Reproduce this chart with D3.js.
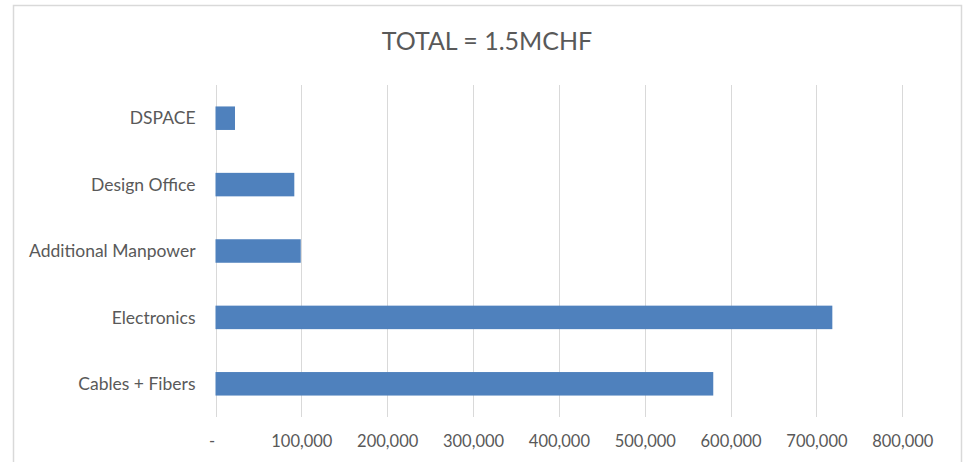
<!DOCTYPE html>
<html>
<head>
<meta charset="utf-8">
<script src="https://cdn.jsdelivr.net/npm/d3@7"></script>
<style>
  html, body { margin: 0; padding: 0; background: #fff; }
  svg { display: block; }
  text { font-family: Lato, "Open Sans", sans-serif; fill: #595959; }
</style>
</head>
<body>
<script>
const title = "TOTAL = 1.5MCHF";
const categories = ["DSPACE", "Design Office", "Additional Manpower", "Electronics", "Cables + Fibers"];
const values = [22700, 91800, 99300, 718500, 579800];
const tickValues = [0, 100000, 200000, 300000, 400000, 500000, 600000, 700000, 800000];

(function () {
const W = 965, H = 462;
const svg = d3.select("body").append("svg").attr("width", W).attr("height", H);

// chart frame
svg.append("rect")
  .attr("x", 13.5).attr("y", 5.5)
  .attr("width", 948).attr("height", 470)
  .attr("fill", "#fff").attr("stroke", "#d9d9d9").attr("stroke-width", 1.5);

const pLeft = 215.5, pRight = 902.3, pTop = 85, pBottom = 417;

const x = d3.scaleLinear().domain([0, 800000]).range([pLeft, pRight]);
const y = d3.scaleBand().domain(categories).range([pTop, pBottom]).paddingInner(0.646).paddingOuter(0.323);

// gridlines
svg.append("g").selectAll("line").data(tickValues).join("line")
  .attr("x1", d => Math.round(x(d)) + 0.5).attr("x2", d => Math.round(x(d)) + 0.5)
  .attr("y1", pTop).attr("y2", pBottom)
  .attr("stroke", "#d9d9d9").attr("stroke-width", 1);

// bars
svg.append("g").selectAll("rect").data(categories).join("rect")
  .attr("x", x(0))
  .attr("y", d => y(d))
  .attr("width", (d, i) => x(values[i]) - x(0))
  .attr("height", y.bandwidth())
  .attr("fill", "#4f81bd");

// x axis labels
const xAxis = d3.axisBottom(x).tickValues(tickValues).tickSize(0)
  .tickFormat(d => d === 0 ? "-" : d3.format(",")(d));
const gx = svg.append("g").attr("transform", `translate(0,${pBottom})`).call(xAxis);
gx.select(".domain").remove();
gx.selectAll("text")
  .attr("y", 30).attr("dy", 0)
  .attr("dx", d => d === 0 ? -4 : 0)
  .style("font-size", "16.5px").style("fill", "#595959")
  .style("font-family", "Lato, 'Open Sans', sans-serif");

// y axis labels
const yAxis = d3.axisLeft(y).tickSize(0).tickPadding(20);
const gy = svg.append("g").attr("transform", `translate(${pLeft},0)`).call(yAxis);
gy.select(".domain").remove();
gy.selectAll("text")
  .attr("dy", "0.35em")
  .style("font-size", "17.5px").style("fill", "#595959")
  .style("font-family", "Lato, 'Open Sans', sans-serif");

// title
svg.append("text")
  .attr("x", 487).attr("y", 49.5)
  .attr("text-anchor", "middle")
  .style("font-size", "25px")
  .text(title);
})();
</script>
</body>
</html>
